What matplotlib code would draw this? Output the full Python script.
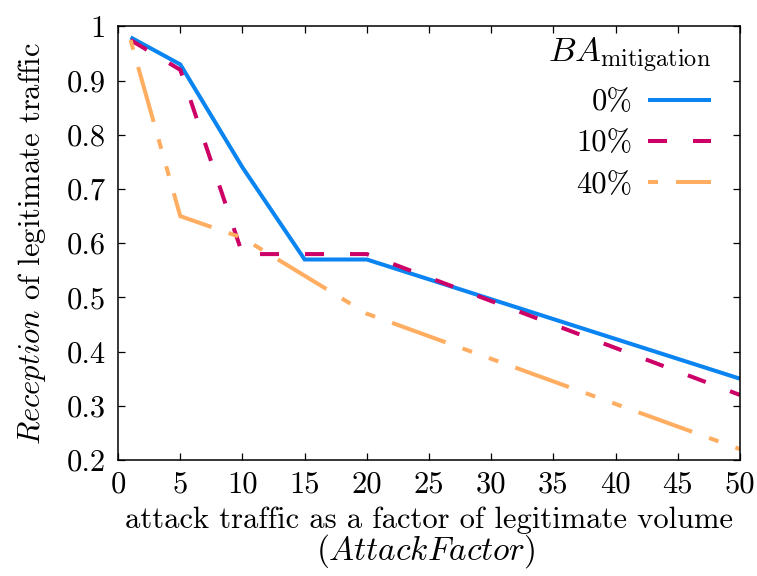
import matplotlib
matplotlib.use("Agg")
import matplotlib.pyplot as plt

plt.rcParams["font.family"] = "serif"
plt.rcParams["font.serif"] = ["cmr10"]
plt.rcParams["mathtext.fontset"] = "cm"
plt.rcParams["axes.formatter.use_mathtext"] = True
plt.rcParams["lines.scale_dashes"] = False

# attack factor on x, reception share on y
attack_factor = [1, 5, 10, 15, 20, 50]
recv_0 = [0.98, 0.93, 0.74, 0.57, 0.57, 0.35]
recv_10 = [0.975, 0.92, 0.58, 0.58, 0.58, 0.32]
recv_40 = [0.975, 0.65, 0.61, 0.54, 0.47, 0.22]
labels = ["0%", "10%", "40%"]

x_ticks = [0, 5, 10, 15, 20, 25, 30, 35, 40, 45, 50]
y_ticks = [0.2, 0.3, 0.4, 0.5, 0.6, 0.7, 0.8, 0.9, 1.0]
y_ticklabels = ["0.2", "0.3", "0.4", "0.5", "0.6", "0.7", "0.8", "0.9", "1"]

fs = 22
lw = 2.9

fig = plt.figure(figsize=(7.57, 5.76), dpi=100)
ax = fig.add_axes([0.156, 0.2014, 0.8215, 0.7526])

ax.plot(attack_factor, recv_0, color="#0a84f0", lw=lw, label=labels[0],
        solid_capstyle="butt", solid_joinstyle="miter")
ax.plot(attack_factor, recv_10, color="#cc0066", lw=lw, label=labels[1],
        dashes=(13.7, 18.7), dash_joinstyle="miter")
ax.plot(attack_factor, recv_40, color="#ffad60", lw=lw, label=labels[2],
        dashes=(7.2, 13, 41, 13, 7.2, 13), dash_joinstyle="miter")

ax.set_xlim(0, 50)
ax.set_ylim(0.2, 1.0)
ax.set_xticks(x_ticks)
ax.set_xticklabels([str(v) for v in x_ticks])
ax.set_yticks(y_ticks)
ax.set_yticklabels(y_ticklabels)

ax.tick_params(direction="in", length=5, width=0.9, labelsize=fs,
               top=True, right=True)
ax.tick_params(axis="x", pad=8)
ax.tick_params(axis="y", pad=9)
for s in ax.spines.values():
    s.set_linewidth(1.1)

# two-line x label: plain first line, italic symbol name below it
ax.set_xlabel("attack traffic as a factor of legitimate volume",
              fontsize=fs, labelpad=6)
fig.text(0.562, 0.043, "($AttackFactor$)", fontsize=24,
         ha="center", va="center")
ax.set_ylabel("$Reception$ of legitimate traffic", fontsize=fs, labelpad=13)

leg = ax.legend(title=r"$BA_{\mathrm{mitigation}}$", loc="upper right",
                bbox_to_anchor=(1.0, 1.045),
                frameon=False, markerfirst=False, fontsize=fs,
                title_fontsize=25, handlelength=2.07, labelspacing=0.45,
                alignment="right", borderpad=0.2, borderaxespad=0.75,
                handletextpad=0.5)

fig.savefig("out.png", dpi=100)
